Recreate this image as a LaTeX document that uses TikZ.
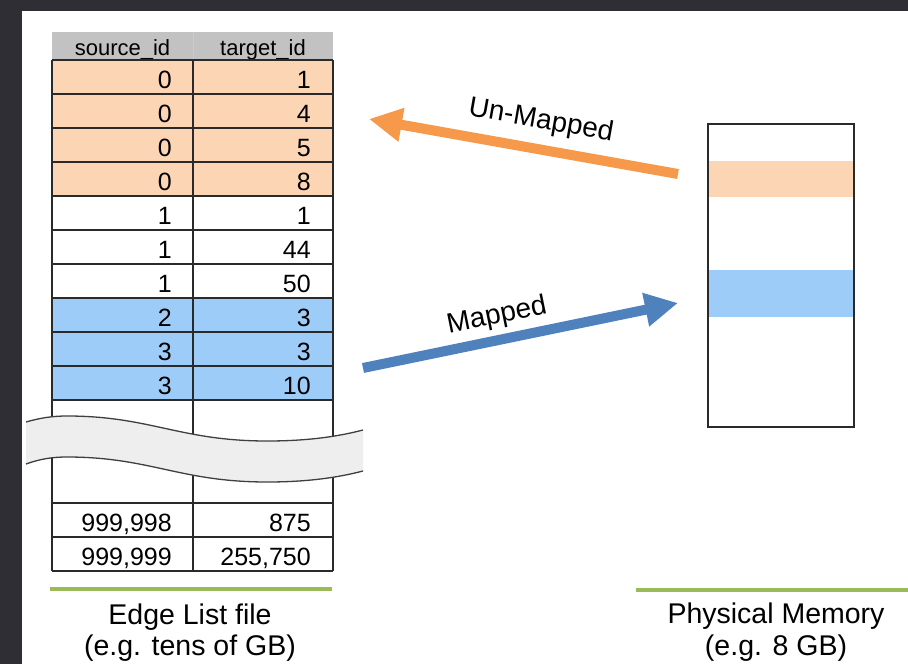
\documentclass[tikz,border=0pt]{standalone}
\usepackage{fontspec}
\setmainfont{Liberation Sans}
\usetikzlibrary{arrows.meta}
\definecolor{frameC}{HTML}{2E2E34}
\definecolor{hdrC}{HTML}{C2C2C2}
\definecolor{orgC}{HTML}{FCD5B5}
\definecolor{bluC}{HTML}{9ECCF8}
\definecolor{orgArrow}{HTML}{F6994A}
\definecolor{bluArrow}{HTML}{4F81BD}
\definecolor{greenC}{HTML}{9BBB59}
\definecolor{lineC}{HTML}{2A2A2A}
\definecolor{waveC}{HTML}{EEEEEE}
\tikzset{
  cell/.style={font=\fontsize{25}{29}\selectfont, inner sep=0pt, anchor=base east},
  hdr/.style={font=\fontsize{22}{26}\selectfont, inner sep=0pt, anchor=base},
  grid/.style={draw=lineC, line width=1.5pt},
  lbl/.style={font=\fontsize{28}{32}\selectfont, inner sep=0pt},
  caption/.style={font=\fontsize{28.5}{32}\selectfont, inner sep=0pt, anchor=base},
  fatarrow/.style={line width=10pt, -{Triangle[length=33pt,width=32pt]}},
  greenline/.style={draw=greenC, line width=4pt},
}
\begin{document}
\begin{tikzpicture}[x=1pt,y=-1pt]
\useasboundingbox (0,0) rectangle (908,664);
\fill[frameC] (0,0) rectangle (908,664);
\fill[white] (22,11) rectangle (908,664);

% header
\fill[hdrC] (52,32) rectangle (333,60);
\draw[white!80!black, line width=0.8pt] (193,32) -- (193,60);
\node[hdr] (hs) at (122.5,55) {source\_id};
\node[hdr] (ht) at (263,55) {target\_id};

% row fills
\fill[orgC] (52,60) rectangle (333,196);
\fill[bluC] (52,298) rectangle (333,400);

% grid
\foreach \yy in {60,94,128,162,196,230,264,298,332,366,400,503,537,571}
  \draw[grid] (52,\yy) -- (333,\yy);
\foreach \xx in {52,193,333}
  \draw[grid] (\xx,60) -- (\xx,571);

% cell texts
\foreach \a/\b [count=\i from 0] in {0/1,0/4,0/5,0/8,1/1,1/44,1/50,2/3,3/3,3/10}{
  \node[cell] (s\i) at (172,{88+34*\i}) {\a};
  \node[cell] (t\i) at (311,{88+34*\i}) {\b};
}
\node[cell] (s98) at (172,531) {999,998};
\node[cell] (t98) at (311,531) {875};
\node[cell] (s99) at (172,565) {999,999};
\node[cell] (t99) at (311,565) {255,750};

% wave break
\fill[waveC] (26,422) .. controls (40,418) and (52,416) .. (67,416)
  .. controls (150,416) and (180,441) .. (267,441)
  .. controls (310,441) and (340,436) .. (363,430)
  -- (363,471)
  .. controls (340,477) and (310,482) .. (267,482)
  .. controls (180,482) and (150,457) .. (67,457)
  .. controls (52,457) and (40,459) .. (26,464) -- cycle;
\draw[draw=lineC!90, line width=1.3pt] (26,422) .. controls (40,418) and (52,416) .. (67,416)
  .. controls (150,416) and (180,441) .. (267,441)
  .. controls (310,441) and (340,436) .. (363,430);
\draw[draw=lineC!90, line width=1.3pt] (26,464) .. controls (40,459) and (52,457) .. (67,457)
  .. controls (150,457) and (180,482) .. (267,482)
  .. controls (310,482) and (340,477) .. (363,471);

% physical memory
\fill[orgC] (708,161) rectangle (854,197);
\fill[bluC] (708,270) rectangle (854,317);
\node[draw=lineC, line width=2pt, minimum width=146pt, minimum height=303pt, inner sep=0pt] (mem) at (781,275.5) {};

% arrows
\coordinate (umS) at (678,174);
\coordinate (umE) at (369,119);
\coordinate (mS) at (363,368);
\coordinate (mE) at (678,303);
\draw[fatarrow, orgArrow] (umS) -- (umE);
\draw[fatarrow, bluArrow] (mS) -- (mE);
\node[lbl, rotate=-10] (ulab) at (541,121) {Un-Mapped};
\node[lbl, rotate=11.5] (mlab) at (497,316) {Mapped};

% captions
\draw[greenline] (50,589) -- (332,589);
\draw[greenline] (636,590) -- (908,590);
\node[caption] (c1) at (190,624) {Edge List file};
\node[caption] (c2) at (190,655) {(e.g. tens of GB)};
\node[caption] (c3) at (776,623) {Physical Memory};
\node[caption] (c4) at (776,655) {(e.g. 8 GB)};
\end{tikzpicture}
\end{document}
